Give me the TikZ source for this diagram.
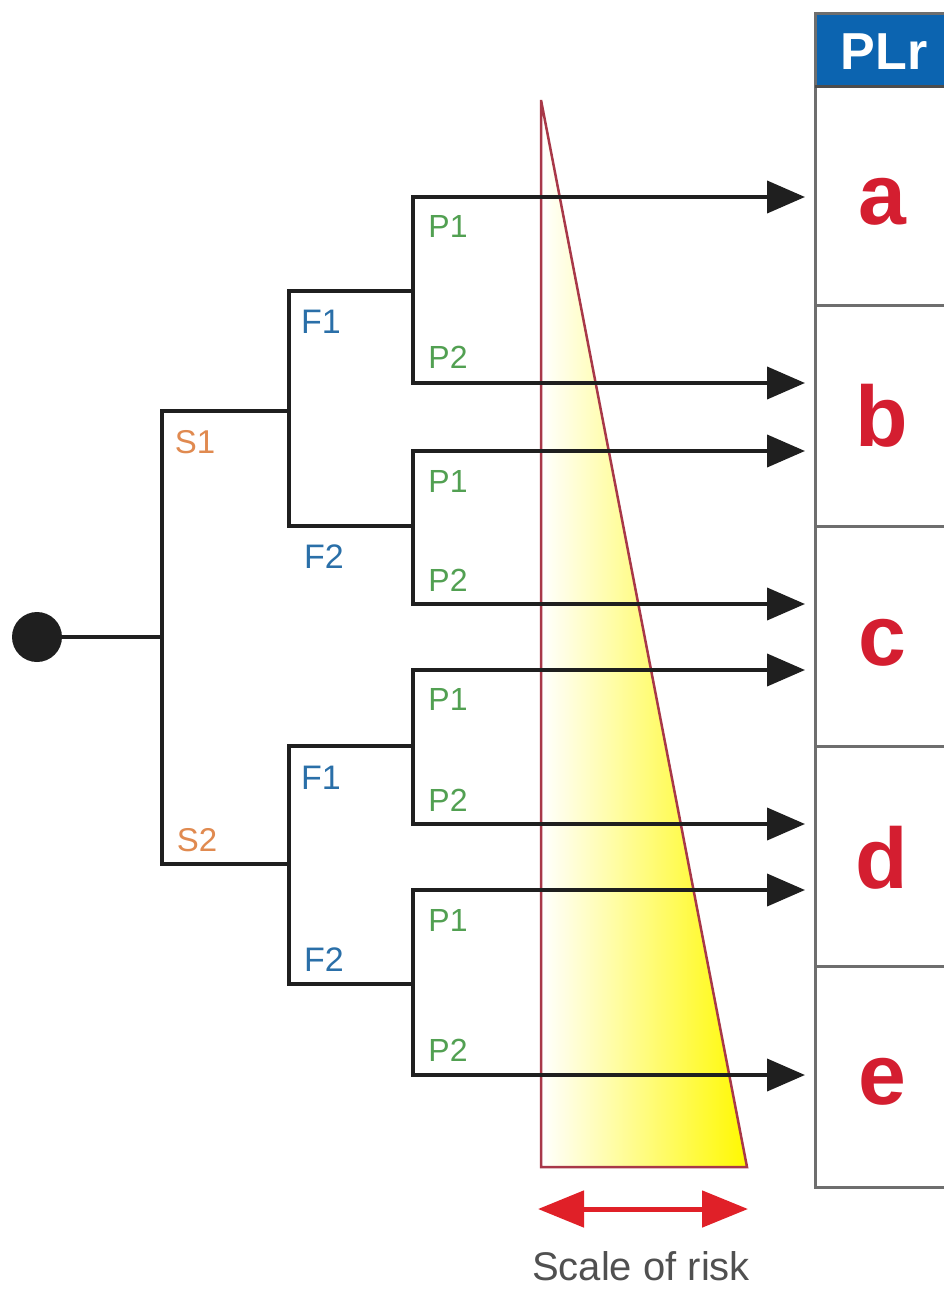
\documentclass[tikz,border=0pt]{standalone}
\usepackage{fontspec}
\setmainfont{Liberation Sans}
\usetikzlibrary{arrows.meta}
\definecolor{sorange}{HTML}{E08A50}
\definecolor{fblue}{HTML}{2A6FA8}
\definecolor{pgreen}{HTML}{52A052}
\definecolor{hdrblue}{HTML}{0C64B0}
\definecolor{letred}{HTML}{D41E30}
\definecolor{trired}{HTML}{A83848}
\definecolor{tablegray}{HTML}{6E6E6E}
\definecolor{scalered}{HTML}{E02028}
\definecolor{risktext}{HTML}{505050}
\begin{document}
\begin{tikzpicture}[x=1pt,y=-1pt,
  tree/.style={line width=4pt, black!88, line join=miter, line cap=rect},
  outarrow/.style={line width=4pt, black!88, -{Triangle[length=38pt,width=32pt]}},
  slab/.style={text=sorange, font=\fontsize{33}{33}\selectfont},
  flab/.style={text=fblue, font=\fontsize{34}{34}\selectfont},
  plab/.style={text=pgreen, font=\fontsize{32}{32}\selectfont},
  plr/.style={text=letred, font=\bfseries\fontsize{86}{86}\selectfont},
  tline/.style={tablegray, line width=3pt},
]
\useasboundingbox (0,0) rectangle (944,1289);
\clip (0,0) rectangle (944,1289);

% scale of risk triangle
\coordinate (tt) at (541,100);
\coordinate (tbl) at (541,1167);
\coordinate (tbr) at (747,1167);
\shade[left color=white, right color=yellow!95!orange] (tt) -- (tbl) -- (tbr) -- cycle;
\draw[trired, line width=2.5pt, line join=miter] (tt) -- (tbl) -- (tbr) -- cycle;

% table
\fill[hdrblue] (815,14) rectangle (950,87);
\node[text=white, font=\bfseries\fontsize{52}{52}\selectfont] (hdr) at (884,52) {PLr};
\draw[tline] (950,14) -- (815,14) -- (815,1187) -- (950,1187);
\draw[tablegray!70!black, line width=3pt] (815,87) -- (950,87);
\foreach \yy in {305,526,746,966} \draw[tline] (815,\yy) -- (950,\yy);
\node[plr] (la) at (882,202) {a};
\node[plr] (lb) at (882,416) {b};
\node[plr] (lc) at (882,643) {c};
\node[plr] (ld) at (882,858) {d};
\node[plr] (le) at (882,1082) {e};

% arrow targets on the table
\foreach \n/\yy in {t1/197,t2/383,t3/451,t4/604,t5/670,t6/824,t7/890,t8/1075}
  \coordinate (\n) at (805,\yy);

% tree
\node[circle, fill=black!88, minimum size=50pt, inner sep=0pt] (root) at (37,637) {};
\coordinate (j0) at (162,637);
\coordinate (s1) at (162,411);
\coordinate (s2) at (162,864);
\coordinate (f1a) at (289,291);
\coordinate (f2a) at (289,526);
\coordinate (f1b) at (289,746);
\coordinate (f2b) at (289,984);
\coordinate (p1a) at (413,197);
\coordinate (p2a) at (413,383);
\coordinate (p1b) at (413,451);
\coordinate (p2b) at (413,604);
\coordinate (p1c) at (413,670);
\coordinate (p2c) at (413,824);
\coordinate (p1d) at (413,890);
\coordinate (p2d) at (413,1075);

\draw[tree] (root.center) -- (j0);
\draw[tree] (s1) -- (s2);
\draw[tree] (s1) -| (f1a |- s1) -- (f1a);
\draw[tree] (f1a |- s1) -- (f2a);
\draw[tree] (s2) -- (f2b |- s2);
\draw[tree] (f1b) -- (f2b);
\draw[tree] (f1a) -- (p1a |- f1a);
\draw[tree] (p1a) -- (p2a);
\draw[tree] (f2a) -- (p1b |- f2a);
\draw[tree] (p1b) -- (p2b);
\draw[tree] (f1b) -- (p1c |- f1b);
\draw[tree] (p1c) -- (p2c);
\draw[tree] (f2b) -- (p1d |- f2b);
\draw[tree] (p1d) -- (p2d);

\draw[outarrow] (p1a) -- (t1);
\draw[outarrow] (p2a) -- (t2);
\draw[outarrow] (p1b) -- (t3);
\draw[outarrow] (p2b) -- (t4);
\draw[outarrow] (p1c) -- (t5);
\draw[outarrow] (p2c) -- (t6);
\draw[outarrow] (p1d) -- (t7);
\draw[outarrow] (p2d) -- (t8);

% labels
\node[slab] (ls1) at (195,442) {S1};
\node[slab] (ls2) at (197,840) {S2};
\node[flab] (lf1a) at (321,322) {F1};
\node[flab] (lf2a) at (324,557) {F2};
\node[flab] (lf1b) at (321,778) {F1};
\node[flab] (lf2b) at (324,960) {F2};
\node[plab] (lp1a) at (448,226) {P1};
\node[plab] (lp2a) at (448,357) {P2};
\node[plab] (lp1b) at (448,481) {P1};
\node[plab] (lp2b) at (448,580) {P2};
\node[plab] (lp1c) at (448,699) {P1};
\node[plab] (lp2c) at (448,800) {P2};
\node[plab] (lp1d) at (448,920) {P1};
\node[plab] (lp2d) at (448,1050) {P2};

% scale of risk arrow
\coordinate (sl) at (538,1209);
\coordinate (sr) at (748,1209);
\draw[scalered, line width=5pt, {Triangle[length=46pt,width=36pt]}-{Triangle[length=46pt,width=36pt]}] (sl) -- (sr);
\node[text=risktext, font=\fontsize{40}{40}\selectfont, inner sep=0pt] (scale) at (641,1266) {Scale of risk};
\end{tikzpicture}
\end{document}
